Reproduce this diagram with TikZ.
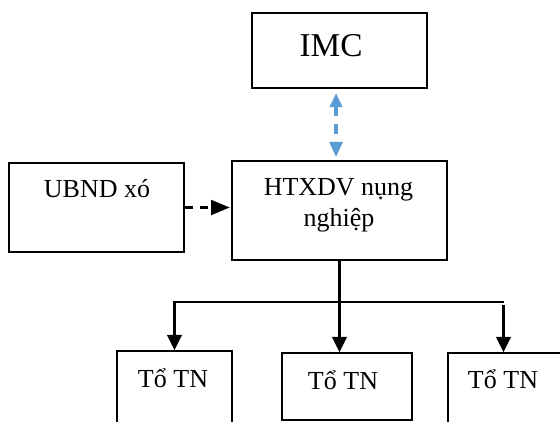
\documentclass[tikz,border=0pt]{standalone}
\usepackage{fontspec}
\setmainfont{Liberation Serif}
\usetikzlibrary{arrows.meta}
\definecolor{linkblue}{HTML}{5B9BD5}
\tikzset{
  box/.style={draw, line width=1.3pt, rectangle, inner sep=0pt},
  lbl/.style={anchor=base, inner sep=0pt, font=\fontsize{19.5}{23.25}\selectfont},
  tree/.style={line width=1.8pt, -{Triangle[length=11.5pt, width=11pt]}},
  sidelink/.style={line width=2pt, dash pattern=on 6pt off 5pt,
    -{Triangle[length=14pt, width=11pt]}, shorten >=1pt},
  toplink/.style={draw=linkblue, line width=2.6pt, dash pattern=on 7.5pt off 6pt,
    {Triangle[length=10.5pt, width=9pt]}-{Triangle[length=11.5pt, width=9.5pt]},
    shorten <=3pt, shorten >=2.2pt}
}
\begin{document}
\begin{tikzpicture}[x=0.75pt, y=-0.75pt]
  \useasboundingbox (0,0) rectangle (560,421);
  \clip (0,0) rectangle (560,421);

  % boxes
  \node[box, line width=1.6pt, minimum width=131.25pt, minimum height=56.25pt] (imc) at (339.5,50.5) {};
  \node[box, minimum width=131.25pt, minimum height=66.75pt] (ubnd) at (96.5,207.5) {};
  \node[box, minimum width=161.25pt, minimum height=74.25pt] (htx) at (339.5,210.5) {};
  \node[box, minimum width=86.25pt, minimum height=66.75pt] (t1) at (174.5,395.5) {};
  \node[box, minimum width=97.5pt, minimum height=50.25pt] (t2) at (347,386.5) {};
  \node[box, minimum width=99pt, minimum height=65.25pt] (t3) at (514,396.5) {};

  % labels
  \node[lbl, font=\fontsize{25}{30}\selectfont] (imcl) at (331,56) {IMC};
  \node[lbl] (ubndl) at (97,197) {UBND xó};
  \node[lbl] (htxl1) at (338.5,195) {HTXDV nụng};
  \node[lbl] (htxl2) at (339,226) {nghiệp};
  \node[lbl] (t1l) at (173,387) {Tổ TN};
  \node[lbl] (t2l) at (343,389) {Tổ TN};
  \node[lbl] (t3l) at (503,388) {Tổ TN};

  % connectors
  \coordinate (barL) at (174.5,302);
  \coordinate (barR) at (504,302);
  \coordinate (rTop) at (503.5,305);
  \draw[toplink] ([xshift=-2.6pt]imc.south) -- ([xshift=-2.6pt]imc.south |- htx.north);
  \draw[sidelink] (ubnd.east) -- (htx.west |- ubnd.east);
  \draw[tree] (barR) -- (barL) -- (t1.north);
  \draw[tree] (htx.south) -- (htx.south |- t2.north);
  \draw[tree] (rTop) -- (rTop |- t3.north);
\end{tikzpicture}
\end{document}
